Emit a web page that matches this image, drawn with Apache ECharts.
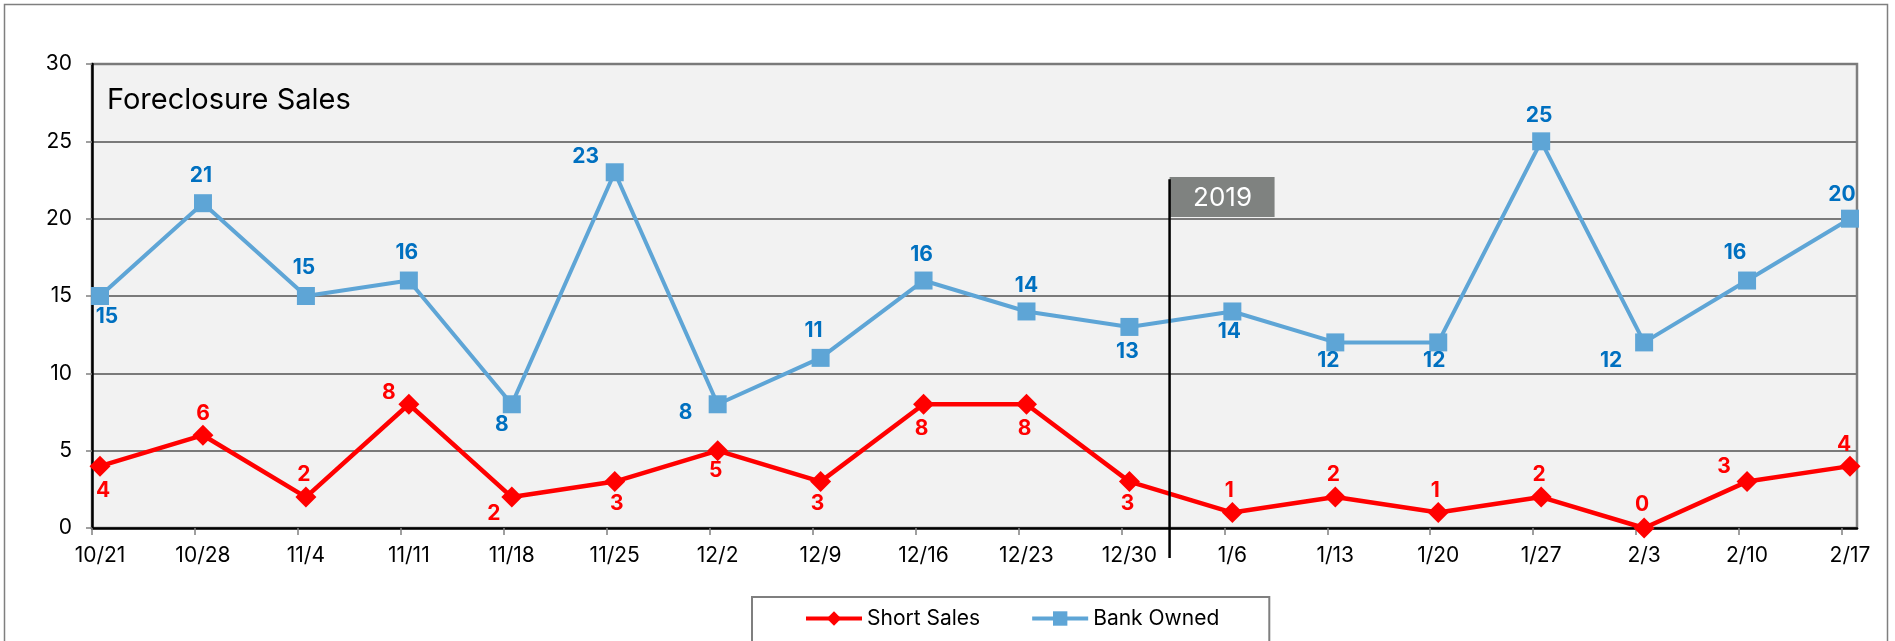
<!DOCTYPE html>
<html>
<head>
<meta charset="utf-8">
<script src="https://cdn.jsdelivr.net/npm/echarts@6/dist/echarts.min.js"></script>
<style>
  html, body { margin: 0; padding: 0; background: #ffffff; }
  #chart { width: 1895px; height: 641px; }
</style>
</head>
<body>
<div id="chart"></div>
<script>
// ---- data ----
const categories = ['10/21','10/28','11/4','11/11','11/18','11/25','12/2','12/9','12/16','12/23','12/30','1/6','1/13','1/20','1/27','2/3','2/10','2/17'];
const shortSales = [4, 6, 2, 8, 2, 3, 5, 3, 8, 8, 3, 1, 2, 1, 2, 0, 3, 4];
const bankOwned  = [15, 21, 15, 16, 8, 23, 8, 11, 16, 14, 13, 14, 12, 12, 25, 12, 16, 20];
const yTickValues = [0, 5, 10, 15, 20, 25, 30];
const seriesNames = ['Short Sales', 'Bank Owned'];
const chartTitle = 'Foreclosure Sales';
const yearLabel = '2019';
const yearStartsAfterIndex = 10;   // 12/30 is last point of 2018

// ---- layout (not data) ----
const POINT_SHIFT = 0.078;          // points sit slightly right of tick marks
const AXIS_MAX = 17.146;
const DIVIDER_FRACTION = 0.39;
const shortLabelOffsets = [[3,25],[0,-22],[-2,-22],[-20,-12],[-18,17],[2,22],[-2,20],[-3,22],[-2,24],[-2,24],[-2,22],[-3,-22],[-2,-22],[-3,-22],[-2,-22],[-2,-23],[-23,-15],[-6,-21]];
const bankLabelOffsets  = [[7,21],[-2,-28],[-2,-28],[-2,-28],[-10,20],[-29,-16],[-32,8],[-7,-27],[-2,-26],[0,-26],[-2,25],[-3,20],[-7,18],[-4,18],[-2,-26],[-33,18],[-12,-28],[-8,-24]];

const FONT = 'Inter, "Noto Sans", sans-serif';

function buildData(values, offsets) {
  return values.map((v, i) => ({
    value: [i + POINT_SHIFT, v],
    label: { offset: offsets[i] }
  }));
}

const chart = echarts.init(document.getElementById('chart'), null, { renderer: 'canvas' });
const tickIdx = categories.map((_, i) => i);

const option = {
  animation: false,
  backgroundColor: '#ffffff',
  textStyle: { fontFamily: FONT },
  title: {
    text: chartTitle,
    left: 102, top: 81,
    textStyle: { fontFamily: FONT, fontSize: 29, fontWeight: 'normal', color: '#000' }
  },
  grid: {
    left: 92, right: 38, top: 64, bottom: 113,
    show: true, backgroundColor: '#f2f2f2', borderColor: '#7f7f7f', borderWidth: 2.5
  },
  xAxis: {
    type: 'value', min: 0, max: AXIS_MAX, interval: 1,
    axisLine: { show: true, onZero: false, lineStyle: { color: '#000', width: 2.5 } },
    axisTick: { show: true, length: 7, lineStyle: { color: '#808080', width: 1.5 }, customValues: tickIdx },
    axisLabel: {
      customValues: tickIdx,
      margin: 17,
      fontFamily: FONT, fontSize: 21, color: '#000',
      formatter: function (v) {
        const i = Math.round(v);
        if (Math.abs(v - i) > 0.001 || i < 0 || i >= categories.length) return '';
        return '{a|' + categories[i] + '}';
      },
      rich: { a: { fontFamily: FONT, fontSize: 21, color: '#000', padding: [0, 0, 0, 16] } }
    },
    splitLine: { show: false }
  },
  yAxis: {
    type: 'value', min: yTickValues[0], max: yTickValues[yTickValues.length - 1], interval: yTickValues[1] - yTickValues[0],
    axisLine: { show: true, lineStyle: { color: '#000', width: 2.5 } },
    axisTick: { show: true, length: 6, lineStyle: { color: '#808080', width: 1.5 } },
    axisLabel: { margin: 20, fontFamily: FONT, fontSize: 21, color: '#000' },
    splitLine: { show: true, lineStyle: { color: '#7a7a7a', width: 2 } }
  },
  legend: {
    data: seriesNames,
    left: 752, top: 597,
    borderColor: '#7f7f7f', borderWidth: 2,
    padding: [11, 50, 16, 52],
    itemGap: 50, itemWidth: 56, itemHeight: 18,
    lineStyle: { width: 4 },
    textStyle: { fontFamily: FONT, fontSize: 21, color: '#000' }
  },
  series: [
    {
      name: seriesNames[0], type: 'line',
      data: buildData(shortSales, shortLabelOffsets),
      symbol: 'diamond', symbolSize: 21,
      clip: false,
      itemStyle: { color: '#ff0000' },
      lineStyle: { color: '#ff0000', width: 4.5 },
      label: { show: true, position: 'inside', formatter: p => p.value[1],
               fontFamily: FONT, fontSize: 21, fontWeight: 'bold', color: '#ff0000' },
      z: 3
    },
    {
      name: seriesNames[1], type: 'line',
      data: buildData(bankOwned, bankLabelOffsets),
      symbol: 'rect', symbolSize: 18,
      clip: false,
      itemStyle: { color: '#5ea5d6' },
      lineStyle: { color: '#5ea5d6', width: 4 },
      label: { show: true, position: 'inside', formatter: p => p.value[1],
               fontFamily: FONT, fontSize: 21, fontWeight: 'bold', color: '#0070c0' },
      z: 2
    }
  ]
};

chart.setOption(option);

// ---- 2019 divider, placed through the axes' scales ----
const dividerX = chart.convertToPixel({ xAxisIndex: 0 }, yearStartsAfterIndex + DIVIDER_FRACTION + POINT_SHIFT);
const boxTopY = chart.convertToPixel({ yAxisIndex: 0 }, 22.69);
const lineTopY = chart.convertToPixel({ yAxisIndex: 0 }, 22.55);
const boxBottomY = chart.convertToPixel({ yAxisIndex: 0 }, 20.1);
const axisY = chart.convertToPixel({ yAxisIndex: 0 }, 0);

chart.setOption({
  graphic: [
    { type: 'rect', silent: true, z: 0,
      shape: { x: 4.5, y: 4.5, width: 1883, height: 720 },
      style: { fill: 'none', stroke: '#7f7f7f', lineWidth: 1.5 } },
    { type: 'rect', silent: true, z: 20,
      shape: { x: dividerX, y: boxTopY, width: 105, height: boxBottomY - boxTopY },
      style: { fill: '#7f8280' } },
    { type: 'text', silent: true, z: 21,
      x: dividerX + 53, y: (boxTopY + boxBottomY) / 2 + 1,
      style: { text: yearLabel, fill: '#ffffff', font: '26px ' + FONT, align: 'center', verticalAlign: 'middle' } },
    { type: 'line', silent: true, z: 22,
      shape: { x1: dividerX, y1: lineTopY, x2: dividerX, y2: axisY + 30 },
      style: { stroke: '#000', lineWidth: 2.5 } }
  ]
});
</script>
</body>
</html>
